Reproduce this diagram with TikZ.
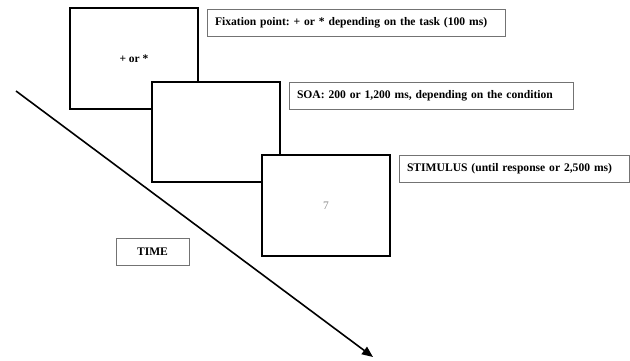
\documentclass[tikz,border=0pt]{standalone}
\usepackage{fontspec}
\setmainfont{Liberation Serif}
\usetikzlibrary{arrows.meta}
\begin{document}
\frenchspacing
\begin{tikzpicture}[x=1pt,y=-1pt,
  screen/.style={draw=black,line width=2pt,fill=white,minimum width=128pt,minimum height=100pt,inner sep=0pt,font=\fontsize{11.5}{13}\selectfont\bfseries},
  label/.style={draw=black!55,line width=1pt,fill=white,inner xsep=8pt,inner ysep=0pt,minimum height=27pt,align=left,font=\fontsize{11.6}{13}\selectfont\bfseries},
  timearrow/.style={line width=1.6pt,-{Triangle[length=11pt,width=9pt]}}]
\useasboundingbox (0,0) rectangle (630,360);
\node[screen,minimum height=101pt] (s1) at (134,58.5) {+ or *};
\node[screen] (s2) at (216,132) {};
\node[screen,minimum height=101pt,text=black!45,font=\fontsize{11.5}{13}\selectfont] (s3) at (326,205.5) {7};
\node[label,text width=282pt] (l1) at (356,22.5) {Fixation point: + or * depending on the task (100 ms)};
\node[label,text width=268pt] (l2) at (431,95.5) {SOA: 200 or 1,200 ms, depending on the condition};
\node[label,text width=214pt] (l3) at (514,169) {STIMULUS (until response or 2,500 ms)};
\node[label,align=center,minimum width=73pt,inner xsep=0pt] (t) at (152.5,251.5) {TIME};
\coordinate (a0) at (16,91);
\coordinate (a1) at (373,357);
\draw[timearrow] (a0) -- (a1);
\end{tikzpicture}
\end{document}
